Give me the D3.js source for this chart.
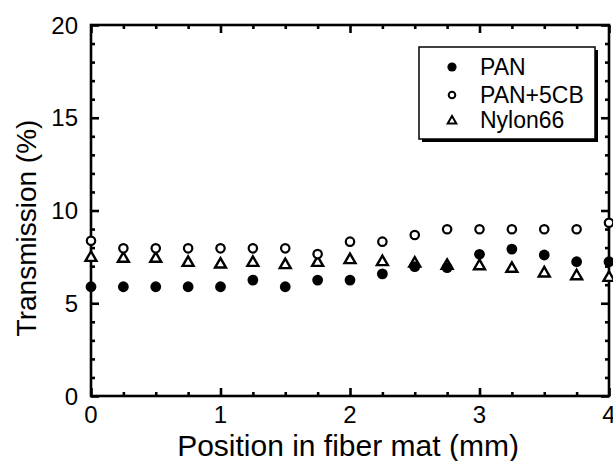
<!DOCTYPE html>
<html><head><meta charset="utf-8">
<script src="https://cdn.jsdelivr.net/npm/d3@7"></script>
<style>body{margin:0;background:#fff}svg{display:block}text{font-family:"Liberation Sans",Arial,sans-serif;fill:#000}</style>
</head><body>
<script>
const positions = [0,0.25,0.5,0.75,1,1.25,1.5,1.75,2,2.25,2.5,2.75,3,3.25,3.5,3.75,4];
const pan      = [5.89,5.89,5.89,5.89,5.89,6.25,5.89,6.25,6.25,6.58,6.97,6.92,7.64,7.92,7.6,7.24,7.24];
const pan5cb   = [8.37,7.96,7.96,7.96,7.96,7.96,7.96,7.65,8.32,8.32,8.68,8.99,8.99,8.99,8.99,8.99,9.34];
const nylon66  = [7.51,7.46,7.46,7.24,7.15,7.24,7.12,7.24,7.39,7.28,7.2,7.08,7.06,6.92,6.67,6.52,6.43];
const seriesNames = ["PAN","PAN+5CB","Nylon66"];
const xTicks = [0,1,2,3,4];
const yTicks = [0,5,10,15,20];

const W=613,H=461;
const svg=d3.select("body").append("svg").attr("width",W).attr("height",H);
const x=d3.scaleLinear().domain([0,4]).range([91,609]);
const y=d3.scaleLinear().domain([0,20]).range([396,25]);

const g=svg.append("g");
const majorLen=8, minorLen=4;
function drawAxis(axis, pos, ticksMajor, ticksMinor){
  const a=g.append("g").attr("transform",pos);
  a.call(axis.tickValues(ticksMajor).tickSize(majorLen).tickFormat(""));
  const b=g.append("g").attr("transform",pos);
  b.call(axis.tickValues(ticksMinor).tickSize(minorLen).tickFormat(""));
  [a,b].forEach(s=>{s.select(".domain").remove();s.selectAll("line").attr("stroke","#000").attr("stroke-width",2.6);});
}
const xMinor=d3.range(0,4.001,0.25).filter(v=>Math.abs(v-Math.round(v))>1e-6);
const yMinor=d3.range(0,20.001,1).filter(v=>v%5!==0);
drawAxis(d3.axisTop(x),`translate(0,${y(0)})`,xTicks,xMinor);
drawAxis(d3.axisBottom(x),`translate(0,${y(20)})`,xTicks,xMinor);
drawAxis(d3.axisRight(y),`translate(${x(0)},0)`,yTicks,yMinor);
drawAxis(d3.axisLeft(y),`translate(${x(4)},0)`,yTicks,yMinor);
g.append("rect").attr("x",x(0)).attr("y",y(20)).attr("width",x(4)-x(0)).attr("height",y(0)-y(20))
 .attr("fill","none").attr("stroke","#000").attr("stroke-width",2.6);

g.selectAll(".xl").data(xTicks).join("text").attr("x",d=>x(d)).attr("y",423)
 .attr("text-anchor","middle").attr("font-size",24).text(d=>d);
g.selectAll(".yl").data(yTicks).join("text").attr("x",78).attr("y",d=>y(d)+8.5)
 .attr("text-anchor","end").attr("font-size",24).text(d=>d);

svg.append("text").attr("x",348).attr("y",456).attr("text-anchor","middle").attr("font-size",30).text("Position in fiber mat (mm)");
svg.append("text").attr("transform","translate(36,228) rotate(-90)").attr("text-anchor","middle").attr("font-size",28).text("Transmission (%)");

const tri=d3.symbol().type(d3.symbolTriangle).size(52);
const dataG=svg.append("g");
dataG.selectAll(".ny").data(positions).join("path")
 .attr("d",tri).attr("transform",(d,i)=>`translate(${x(d)},${y(nylon66[i])+1})`)
 .attr("fill","#fff").attr("stroke","#000").attr("stroke-width",2.4);
dataG.selectAll(".p5").data(positions).join("circle")
 .attr("cx",d=>x(d)).attr("cy",(d,i)=>y(pan5cb[i])).attr("r",4.2)
 .attr("fill","#fff").attr("stroke","#000").attr("stroke-width",2.2);
dataG.selectAll(".pa").data(positions).join("circle")
 .attr("cx",d=>x(d)).attr("cy",(d,i)=>y(pan[i])).attr("r",5.4).attr("fill","#000");

const lg=svg.append("g");
lg.append("rect").attr("x",422).attr("y",50).attr("width",176).attr("height",92).attr("fill","#000");
lg.append("rect").attr("x",419).attr("y",47).attr("width",176).attr("height",92).attr("fill","#fff").attr("stroke","#000").attr("stroke-width",1.5);
const ly=[67,95,120];
lg.append("circle").attr("cx",452).attr("cy",ly[0]).attr("r",4.6).attr("fill","#000");
lg.append("circle").attr("cx",452).attr("cy",ly[1]).attr("r",3.3).attr("fill","#fff").attr("stroke","#000").attr("stroke-width",2);
lg.append("path").attr("d",d3.symbol().type(d3.symbolTriangle).size(32)).attr("transform",`translate(452,${ly[2]+1})`)
 .attr("fill","#fff").attr("stroke","#000").attr("stroke-width",2);
lg.selectAll(".lt").data(seriesNames).join("text").attr("x",480).attr("y",(d,i)=>ly[i]+8)
 .attr("font-size",23).text(d=>d);
</script>
</body></html>
